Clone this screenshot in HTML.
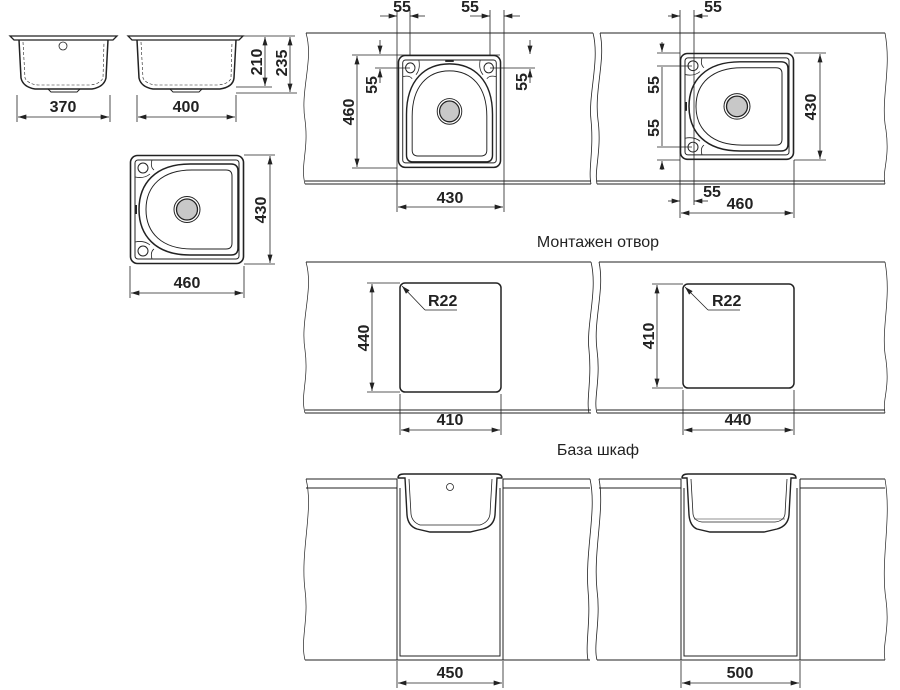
<!DOCTYPE html>
<html><head><meta charset="utf-8"><style>
html,body{margin:0;padding:0;background:#fff;}
svg{display:block}
text{font-family:"Liberation Sans",sans-serif;font-weight:bold;font-size:16px;fill:#222}
.t{font-weight:normal;font-size:16px}
</style></head><body>
<svg width="900" height="690" viewBox="0 0 900 690" xmlns="http://www.w3.org/2000/svg">
<defs>
<marker id="a" viewBox="0 0 10 6" refX="10" refY="3" markerWidth="9" markerHeight="5" orient="auto-start-reverse" markerUnits="userSpaceOnUse"><path d="M0,0 L10,3 L0,6 Z" fill="#222"/></marker>
<g id="sink" fill="none" stroke="#222">
 <rect x="0.5" y="0.5" width="113" height="108" rx="7" stroke-width="1.6"/>
 <rect x="5" y="5" width="104" height="99" rx="3" stroke-width="1"/>
 <circle cx="13" cy="13" r="5" stroke-width="1"/>
 <circle cx="13" cy="96" r="5" stroke-width="1"/>
 <path d="M5,22 Q14,24 20,19 M22,5 Q20,12 24,15 M5,87 Q14,85 20,90 M22,104 Q20,97 24,94" stroke-width="0.8"/>
 <path d="M60,9 L101,9 Q108,9 108,16 L108,93 Q108,100 101,100 L60,100 C25,100 9,80 9,54.5 C9,29 25,9 60,9 Z" stroke-width="1.5"/>
 <path d="M62,15 L96,15 Q102,15 102,21 L102,88 Q102,94 96,94 L62,94 C32,94 16,78 16,54.5 C16,31 32,15 62,15 Z" stroke-width="1"/>
 <circle cx="57" cy="54.5" r="13" stroke-width="1"/>
 <circle cx="57" cy="54.5" r="10.5" fill="#c8c8c8" stroke-width="1.3"/>
 <rect x="5" y="50" width="2" height="9" fill="#222" stroke="none"/>
</g>
</defs>

<g stroke="#222" fill="none" stroke-width="1.2">
<path d="M10,36 L117,36 L113,40 L14,40 Z" stroke-width="1.3"/>
<path d="M19,40 L21,78 Q23,87 35,89 L92,89 Q104,87 106,78 L108,40" stroke-width="1.5"/>
<path d="M23,42 L25,78 Q28,84 38,85 L90,85 Q100,84 103,78 L104,42" stroke-width="0.6" stroke-dasharray="3,2"/>
<path d="M48,89 L51,92 L77,92 L80,89" stroke-width="1"/>
<circle cx="63" cy="46" r="4" stroke-width="0.8"/>
<path d="M128,36 L243,36 L239,40 L132,40 Z" stroke-width="1.3"/>
<path d="M137,40 L139,78 Q141,87 153,89 L220,89 Q233,87 234,78 L236,40" stroke-width="1.5"/>
<path d="M141,42 L143,78 Q146,84 156,85 L218,85 Q229,84 231,78 L232,42" stroke-width="0.6" stroke-dasharray="3,2"/>
<path d="M170,89 L173,92 L199,92 L202,89" stroke-width="1"/>
</g>
<g stroke="#222" stroke-width="0.8" fill="none">
<path d="M17,95 V122 M110,95 V122 M137,95 V122 M236,95 V122"/>
<line x1="18" y1="117" x2="109" y2="117" marker-start="url(#a)" marker-end="url(#a)"/>
<line x1="138" y1="117" x2="235" y2="117" marker-start="url(#a)" marker-end="url(#a)"/>
<path d="M243,36 H295 M236,87 H272 M236,93 H297"/>
<line x1="265" y1="37" x2="265" y2="86" marker-start="url(#a)" marker-end="url(#a)"/>
<line x1="290" y1="37" x2="290" y2="92" marker-start="url(#a)" marker-end="url(#a)"/>
</g>
<text x="63" y="112" text-anchor="middle">370</text>
<text x="186" y="112" text-anchor="middle">400</text>
<text transform="translate(262,62) rotate(-90)" text-anchor="middle">210</text>
<text transform="translate(287,63) rotate(-90)" text-anchor="middle">235</text>

<use href="#sink" transform="translate(130,155)"/>
<g stroke="#222" stroke-width="0.8" fill="none">
<path d="M244,155 H275 M244,264 H275 M130,266 V298 M244,266 V298"/>
<line x1="270" y1="156" x2="270" y2="263" marker-start="url(#a)" marker-end="url(#a)"/>
<line x1="131" y1="293" x2="243" y2="293" marker-start="url(#a)" marker-end="url(#a)"/>
</g>
<text transform="translate(266,210) rotate(-90)" text-anchor="middle">430</text>
<text x="187" y="288" text-anchor="middle">460</text>

<g stroke="#222" fill="none" stroke-width="1">
<path d="M306,33 H593 M305,181 H591 M305,184 H591"/>
<path d="M306,33 C314,60 300,90 305,120 C309,150 300,165 305,184" stroke-width="0.7"/>
<path d="M593,33 C600,60 588,95 591,120 C594,150 588,170 591,184" stroke-width="0.8"/>
<path d="M600,33 H885 M597,181 H885 M597,184 H885"/>
<path d="M600,33 C606,60 594,90 598,120 C602,150 594,170 597,184" stroke-width="0.8"/>
<path d="M885,33 C892,70 880,100 886,130 C890,160 882,170 885,184" stroke-width="0.7"/>
<path d="M306,262 H591 M305,410 H591 M305,413 H591"/>
<path d="M306,262 C314,290 300,320 305,350 C309,380 300,395 305,413" stroke-width="0.7"/>
<path d="M591,262 C598,290 586,325 589,350 C592,380 586,400 589,413" stroke-width="0.8"/>
<path d="M599,262 H885 M597,410 H885 M597,413 H885"/>
<path d="M599,262 C605,290 593,320 597,350 C601,380 593,400 597,413" stroke-width="0.8"/>
<path d="M885,262 C892,300 880,330 886,360 C890,390 882,400 885,413" stroke-width="0.7"/>
<path d="M306,479 H397 M306,488 H397 M503,479 H590 M503,488 H590 M305,660 H590"/>
<path d="M306,479 C314,510 300,550 305,590 C309,620 300,640 305,660" stroke-width="0.7"/>
<path d="M590,479 C597,510 585,550 588,590 C591,620 585,645 588,660" stroke-width="0.8"/>
<path d="M599,479 H681 M599,488 H681 M800,479 H885 M800,488 H885 M597,660 H885"/>
<path d="M599,479 C605,510 593,550 597,590 C601,620 593,645 597,660" stroke-width="0.8"/>
<path d="M885,479 C892,520 880,560 886,600 C890,630 882,645 885,660" stroke-width="0.7"/>
</g>

<use href="#sink" transform="translate(501,55) rotate(90) scale(0.99,0.945)"/>
<g stroke="#222" stroke-width="0.8" fill="none">
<path d="M397,10 V212 M504,10 V212 M410,10 V55 M490,10 V55"/>
<line x1="380" y1="16" x2="397" y2="16" marker-end="url(#a)"/>
<line x1="425" y1="16" x2="410" y2="16" marker-end="url(#a)"/>
<line x1="470" y1="16" x2="490" y2="16" marker-end="url(#a)"/>
<line x1="520" y1="16" x2="504" y2="16" marker-end="url(#a)"/>
<line x1="398" y1="207" x2="503" y2="207" marker-start="url(#a)" marker-end="url(#a)"/>
<path d="M352,55 H500 M352,168 H397 M375,68 H410 M490,68 H535"/>
<line x1="357" y1="56" x2="357" y2="167" marker-start="url(#a)" marker-end="url(#a)"/>
<line x1="380" y1="40" x2="380" y2="54" marker-end="url(#a)"/>
<line x1="380" y1="83" x2="380" y2="69" marker-end="url(#a)"/>
<line x1="530" y1="40" x2="530" y2="54" marker-end="url(#a)"/>
<line x1="530" y1="83" x2="530" y2="69" marker-end="url(#a)"/>
</g>
<text x="402" y="12" text-anchor="middle">55</text>
<text x="470" y="12" text-anchor="middle">55</text>
<text x="450" y="203" text-anchor="middle">430</text>
<text transform="translate(354,112) rotate(-90)" text-anchor="middle">460</text>
<text transform="translate(377,85) rotate(-90)" text-anchor="middle">55</text>
<text transform="translate(527,82) rotate(-90)" text-anchor="middle">55</text>

<use href="#sink" transform="translate(680,53) scale(1,0.98)"/>
<g stroke="#222" stroke-width="0.8" fill="none">
<path d="M680,10 V218 M694,10 V205 M794,160 V218"/>
<line x1="668" y1="16" x2="680" y2="16" marker-end="url(#a)"/>
<line x1="708" y1="16" x2="694" y2="16" marker-end="url(#a)"/>
<line x1="668" y1="201" x2="680" y2="201" marker-end="url(#a)"/>
<line x1="708" y1="201" x2="694" y2="201" marker-end="url(#a)"/>
<line x1="681" y1="213" x2="793" y2="213" marker-start="url(#a)" marker-end="url(#a)"/>
<path d="M657,53 H680 M657,66 H692 M657,147 H692 M657,160 H680 M794,53 H826 M794,160 H826"/>
<line x1="662" y1="42" x2="662" y2="52" marker-end="url(#a)"/>
<line x1="662" y1="170" x2="662" y2="161" marker-end="url(#a)"/>
<line x1="662" y1="67" x2="662" y2="146"/>
<line x1="820" y1="54" x2="820" y2="159" marker-start="url(#a)" marker-end="url(#a)"/>
</g>
<text x="713" y="12" text-anchor="middle">55</text>
<text x="712" y="197" text-anchor="middle">55</text>
<text x="740" y="209" text-anchor="middle">460</text>
<text transform="translate(659,85) rotate(-90)" text-anchor="middle">55</text>
<text transform="translate(659,128) rotate(-90)" text-anchor="middle">55</text>
<text transform="translate(816,107) rotate(-90)" text-anchor="middle">430</text>

<text class="t" x="598" y="247" text-anchor="middle">Монтажен отвор</text>
<text class="t" x="598" y="455" text-anchor="middle">База шкаф</text>

<g stroke="#222" fill="none">
<rect x="400" y="283" width="101" height="109" rx="5" stroke-width="1.5"/>
<rect x="683" y="284" width="111" height="104" rx="5" stroke-width="1.5"/>
<g stroke-width="0.8">
<path d="M367,283 H400 M367,392 H400 M400,394 V435 M501,394 V435"/>
<line x1="372" y1="284" x2="372" y2="391" marker-start="url(#a)" marker-end="url(#a)"/>
<line x1="401" y1="430" x2="500" y2="430" marker-start="url(#a)" marker-end="url(#a)"/>
<line x1="425" y1="310" x2="402" y2="286" marker-end="url(#a)"/>
<path d="M425,310 H457"/>
<path d="M652,284 H683 M652,388 H683 M683,390 V435 M794,390 V435"/>
<line x1="657" y1="285" x2="657" y2="387" marker-start="url(#a)" marker-end="url(#a)"/>
<line x1="684" y1="430" x2="793" y2="430" marker-start="url(#a)" marker-end="url(#a)"/>
<line x1="708" y1="310" x2="685" y2="287" marker-end="url(#a)"/>
<path d="M708,310 H740"/>
</g>
</g>
<text x="428" y="306">R22</text>
<text x="712" y="306">R22</text>
<text transform="translate(369,338) rotate(-90)" text-anchor="middle">440</text>
<text transform="translate(654,336) rotate(-90)" text-anchor="middle">410</text>
<text x="450" y="425" text-anchor="middle">410</text>
<text x="738" y="425" text-anchor="middle">440</text>

<g stroke="#222" fill="none">
<path d="M397,479 V660 M503,479 V660 M400,488 V656 H500 V488" stroke-width="1"/>
<path d="M398,478 Q398,474 404,474 L496,474 Q502,474 502,478 L497,478 L495,515 Q494,526 483,529 L470,532 L430,532 L417,529 Q408,526 407,515 L405,478 Z" stroke-width="1.4"/>
<path d="M409,479 L411,514 Q412,522 420,525 L480,525 Q489,522 490,514 L492,479" stroke-width="0.8"/>
<circle cx="450" cy="487" r="3.5" stroke-width="0.8"/>
<path d="M681,479 V660 M800,479 V660 M684,488 V656 H797 V488" stroke-width="1"/>
<path d="M682,478 Q682,474 688,474 L790,474 Q796,474 796,478 L791,478 L789,515 Q788,526 777,529 L764,532 L710,532 L697,529 Q690,526 689,515 L687,478 Z" stroke-width="1.4"/>
<path d="M691,479 L693,514 Q694,521 702,522 L775,522 Q784,521 785,514 L787,479" stroke-width="0.8"/>
<path d="M694,519 H785" stroke-width="0.6"/>
<g stroke-width="0.8">
<path d="M397,661 V688 M503,661 V688 M681,661 V688 M800,661 V688"/>
<line x1="398" y1="683" x2="502" y2="683" marker-start="url(#a)" marker-end="url(#a)"/>
<line x1="682" y1="683" x2="799" y2="683" marker-start="url(#a)" marker-end="url(#a)"/>
</g>
</g>
<text x="450" y="678" text-anchor="middle">450</text>
<text x="740" y="678" text-anchor="middle">500</text>
</svg>
</body></html>
